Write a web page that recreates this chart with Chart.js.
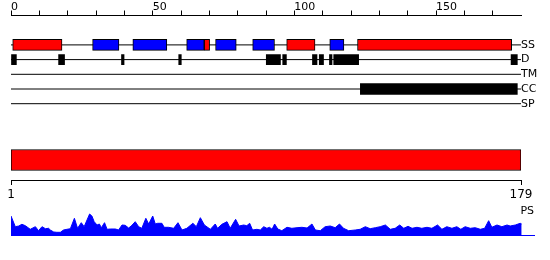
<!DOCTYPE html>
<html>
<head>
<meta charset="utf-8">
<script src="https://cdn.jsdelivr.net/npm/chart.js@4.4.1/dist/chart.umd.min.js"></script>
<style>
  body { margin: 0; background: #fff; }
  .box { position: absolute; left: 0; }
</style>
</head>
<body>
<div class="box" style="top:0px"><canvas id="feat-chart" width="550" height="125"></canvas></div>
<div class="box" style="top:140px"><canvas id="seq-chart" width="550" height="70"></canvas></div>
<div class="box" style="top:200px"><canvas id="ps-chart" width="550" height="60"></canvas></div>
<script>
// residue ranges
const rowNames = ["SS", "D", "TM", "CC", "SP"];
const ssHelix = [[0.6, 18], [68.2, 70.1], [97.3, 107.3], [122.3, 176.7]];
const ssStrand = [[28.8, 38.1], [43, 55], [62, 68.2], [72.2, 79.5], [85.3, 93], [112.5, 117.5]];
const disorder = [[0, 1.9], [16.8, 18.9], [39, 39.9], [59.2, 60.1], [90.1, 95.1], [95.9, 97.2],
                  [106.4, 108], [108.8, 110.3], [112.4, 113.3], [113.9, 122.7], [176.5, 178.7]];
const transMem = [];
const coiledCoil = [[123.3, 178.7]];
const signalPep = [];

const posMax = 180;      // top ruler 0..180
const tickStep = 10;
const labelStep = 50;
const seqStart = 1;
const seqEnd = 179;

// PS profile (residue, value)
const psPos = [1, 2.5, 3.7, 4.8, 6, 7.7, 9.5, 10.6, 11.8, 13, 14.1, 14.7, 15.9, 17, 18.2, 19.3, 20.5, 21.7,
  23.1, 24.2, 25.5, 26.5, 27.5, 28.4, 29.2, 30, 31, 31.8, 32.5, 33.6, 34.5, 35.6, 37.4, 38.5, 39.7, 40.8,
  42, 42.9, 44.3, 45.5, 46.6, 48, 49, 50.4, 51.3, 52.1, 53.6, 54.4, 55.9, 57.7, 59.2, 60.6, 62.3, 64.4,
  65.6, 67, 68.4, 70.5, 72.2, 73, 74.5, 76.3, 77.4, 79.3, 80.5, 82.1, 83.2, 84.2, 85.2, 86.7, 87.9, 89.1,
  90.2, 91.1, 92, 92.9, 94, 95.4, 97.2, 98.9, 100.7, 102.4, 104.2, 105.9, 107.1, 108.8, 110.5, 112.3,
  114, 115.5, 116.9, 118.7, 121, 122.7, 124.5, 126.2, 128, 129.7, 131.5, 133.2, 134.9, 136.5, 137.9,
  139.4, 140.8, 142.5, 144.2, 146, 147.7, 149.7, 151.2, 152.9, 154.7, 156.4, 157.8, 159.3, 161.1,
  162.8, 164.6, 166.1, 167.5, 168.6, 170.4, 172.1, 173.9, 175, 176.8, 178.5, 179];
const psVal = [19, 8.3, 9, 10.7, 9.3, 5.7, 8.3, 4.3, 8.3, 6.3, 6.7, 5, 3, 2.7, 2.7, 5, 5.7, 6.3,
  16.7, 6.7, 12.3, 8.3, 15, 21, 19, 13.3, 10, 11, 7.3, 12.3, 5.7, 6, 6, 5, 10, 9.7,
  7, 9, 13.3, 8.3, 6.7, 16.7, 11, 19, 11, 11.7, 11.7, 7.7, 7.7, 6.7, 12.3, 5, 6.7, 11.7,
  8.3, 17.3, 10, 5.7, 11, 6.7, 10.7, 13.3, 6.7, 15.7, 9, 10, 9.3, 11.7, 5, 5.7, 5, 8.3,
  6.7, 7.7, 5.7, 11, 6, 4.3, 7.7, 6.7, 7.3, 7.7, 7, 11, 5, 4.3, 8.3, 9,
  7.3, 11, 6.7, 4.3, 5, 5.7, 8.3, 6.3, 7.3, 8.3, 10, 5.7, 6.7, 10, 6.7,
  8.7, 6.7, 7.7, 6.7, 7.7, 6.7, 10, 5.7, 8.3, 6.7, 8.3, 5.7, 8.3, 6.7,
  7.3, 5.7, 6.7, 14.3, 7.7, 10, 8.3, 10, 9, 10, 11.7, 11];
const psMax = 28.8;

Chart.defaults.font.family = "'DejaVu Sans', sans-serif";
Chart.defaults.font.size = 11;
Chart.defaults.color = "#000";
Chart.defaults.animation = false;
Chart.defaults.plugins.legend.display = false;
Chart.defaults.plugins.tooltip.enabled = false;

const RED = "#ff0000", BLUE = "#0000ff", BLACK = "#000000";

function barSet(ranges, row, color, thick, border) {
    return {
        type: "bar",
        indexAxis: "y",
        grouped: false,
        data: ranges.map(r => ({x: r, y: row})),
        backgroundColor: color,
        borderColor: BLACK,
        borderWidth: border,
        borderSkipped: false,
        barThickness: thick,
        order: 1
    };
}

const rowLines = rowNames.map((n, i) => ({
    type: "line",
    data: [{x: 0, y: i}, {x: posMax, y: i}],
    borderColor: BLACK,
    borderWidth: 1,
    pointRadius: 0,
    fill: false,
    order: 2
}));

new Chart("feat-chart", {
    type: "bar",
    data: {
        datasets: [
            barSet(ssHelix, 0, RED, 11, 1),
            barSet(ssStrand, 0, BLUE, 11, 1),
            barSet(disorder, 1, BLACK, 10, 0),
            barSet(transMem, 2, BLACK, 10, 0),
            barSet(coiledCoil, 3, BLACK, 11, 0),
            barSet(signalPep, 4, BLACK, 10, 0),
            ...rowLines
        ]
    },
    options: {
        responsive: false,
        layout: { padding: { left: 11, right: 0, top: 0, bottom: 5 } },
        scales: {
            x: {
                type: "linear",
                position: "top",
                offset: false,
                min: 0,
                max: posMax,
                afterBuildTicks: s => { s.ticks = s.ticks.filter(t => t.value < posMax); },
                afterFit: s => { s.height = 15.5; },
                ticks: {
                    stepSize: tickStep,
                    autoSkip: false,
                    maxRotation: 0,
                    align: "start",
                    padding: -3,
                    callback: v => (v % labelStep === 0 ? String(v) : "")
                },
                grid: { offset: false, drawOnChartArea: false, drawTicks: true, tickLength: 5, color: BLACK },
                border: { display: true, color: BLACK, width: 1 }
            },
            y: {
                type: "linear",
                position: "right",
                offset: false,
                reverse: true,
                min: -2,
                max: 5,
                afterBuildTicks: s => { s.ticks = rowNames.map((n, i) => ({value: i})); },
                afterFit: s => { s.width = 29; },
                ticks: { padding: 0, callback: v => rowNames[v] },
                grid: { offset: false, display: false, drawTicks: false },
                border: { display: false }
            }
        }
    }
});

new Chart("seq-chart", {
    type: "bar",
    data: {
        datasets: [barSet([[seqStart, seqEnd]], 0.5, RED, 21, 1)]
    },
    options: {
        responsive: false,
        layout: { padding: { left: 11, right: 29, top: 0, bottom: 0 } },
        scales: {
            x: {
                type: "linear",
                position: "bottom",
                offset: false,
                min: seqStart,
                max: seqEnd,
                afterBuildTicks: s => { s.ticks = [{value: seqStart}, {value: seqEnd}]; },
                afterFit: s => { s.height = 30; },
                ticks: { autoSkip: false, maxRotation: 0, padding: 3, font: { size: 12 } },
                grid: { offset: false, drawOnChartArea: false, drawTicks: true, tickLength: 5, color: BLACK },
                border: { display: true, color: BLACK, width: 1 }
            },
            y: { type: "linear", display: false, offset: false, min: 0, max: 1 }
        }
    }
});

new Chart("ps-chart", {
    type: "line",
    data: {
        datasets: [{
            data: psPos.map((p, i) => ({x: p, y: psVal[i]})),
            borderColor: BLUE,
            backgroundColor: BLUE,
            borderWidth: 1,
            pointRadius: 0,
            fill: "origin"
        }]
    },
    options: {
        responsive: false,
        layout: { padding: { left: 11, right: 16, top: 0, bottom: 25 } },
        plugins: {
            title: {
                display: true,
                text: "PS",
                align: "end",
                color: BLACK,
                font: { size: 11, weight: "normal" },
                padding: { top: 5, bottom: -12 }
            }
        },
        scales: {
            x: {
                type: "linear",
                min: seqStart,
                max: 183.3,
                ticks: { display: false },
                grid: { display: false, drawTicks: false },
                border: { display: true, color: BLUE, width: 1 }
            },
            y: { type: "linear", display: false, min: 0, max: psMax }
        }
    }
});
</script>
</body>
</html>
